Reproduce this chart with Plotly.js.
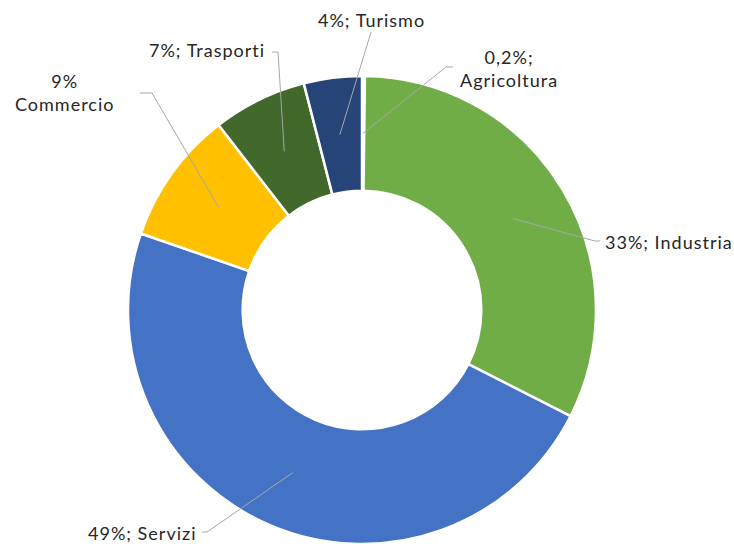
<!DOCTYPE html>
<html>
<head>
<meta charset="utf-8">
<script src="https://cdn.plot.ly/plotly-3.0.1.min.js"></script>
<style>html,body{margin:0;padding:0;background:#fff;}#chart{width:734px;height:544px;}</style>
</head>
<body>
<div id="chart"></div>
<script>
const categories = ['Agricoltura', 'Industria', 'Servizi', 'Commercio', 'Trasporti', 'Turismo'];
const values = [0.2, 32.3, 47.8, 9.2, 6.5, 4.0];
const labelTexts = ['0,2%;<br>Agricoltura', '33%; Industria', '49%; Servizi', '9%<br>Commercio', '7%; Trasporti', '4%; Turismo'];
const colors = ['#FFFFFF', '#70AD47', '#4472C4', '#FFC000', '#43682B', '#264478'];

const W = 734, H = 544;
const cx = 362, cy = 310, R = 234, hole = 0.51;
const px = x => x / W;
const py = y => 1 - y / H;

// leader line elbows (pixels) and label anchors (layout)
const elbows = [
  [[446, 67], [453, 67]],
  [[595, 241], [600, 241]],
  [[207, 532], [202, 532]],
  [[152, 93], [140, 93]],
  [[278, 52], [272, 52]],
  [[371, 32]]
];
const labelPos = [
  {x: 509, y: 68, xanchor: 'center'},
  {x: 603, y: 242, xanchor: 'left'},
  {x: 198, y: 533, xanchor: 'right'},
  {x: 64, y: 93, xanchor: 'center'},
  {x: 267, y: 50, xanchor: 'right'},
  {x: 371, y: 20, xanchor: 'center'}
];

const total = values.reduce((a, b) => a + b, 0);
const shapes = [];
const annotations = [];
let cum = 0;
const rMid = R * (1 + hole) / 2;
const wrap = t => t.split('<br>').map(s => '<span style="letter-spacing:1px">' + s + '</span>').join('<br>');
values.forEach((v, i) => {
  const mid = (cum + v / 2) / total * 2 * Math.PI;
  cum += v;
  const sx = cx + rMid * Math.sin(mid);
  const sy = cy - rMid * Math.cos(mid);
  let path = 'M' + px(sx) + ',' + py(sy);
  elbows[i].forEach(p => { path += ' L' + px(p[0]) + ',' + py(p[1]); });
  shapes.push({type: 'path', xref: 'paper', yref: 'paper', path: path,
    line: {color: '#A6A6A6', width: 1}});
  annotations.push({xref: 'paper', yref: 'paper', x: px(labelPos[i].x), y: py(labelPos[i].y),
    xanchor: labelPos[i].xanchor, yanchor: 'middle', align: 'center', showarrow: false,
    text: wrap(labelTexts[i]), font: {family: 'Lato, sans-serif', size: 18, color: '#262626'}});
});

const trace = {
  type: 'pie',
  labels: categories,
  values: values,
  sort: false,
  direction: 'clockwise',
  rotation: 0,
  hole: hole,
  textinfo: 'none',
  hoverinfo: 'none',
  marker: {colors: colors, line: {color: '#FFFFFF', width: 2.5}},
  domain: {x: [px(cx - R), px(cx + R)], y: [py(cy + R), py(cy - R)]}
};

Plotly.newPlot('chart', [trace], {
  width: W, height: H,
  margin: {l: 0, r: 0, t: 0, b: 0},
  showlegend: false,
  paper_bgcolor: '#FFFFFF',
  shapes: shapes,
  annotations: annotations
}, {displayModeBar: false, staticPlot: true});
</script>
</body>
</html>
